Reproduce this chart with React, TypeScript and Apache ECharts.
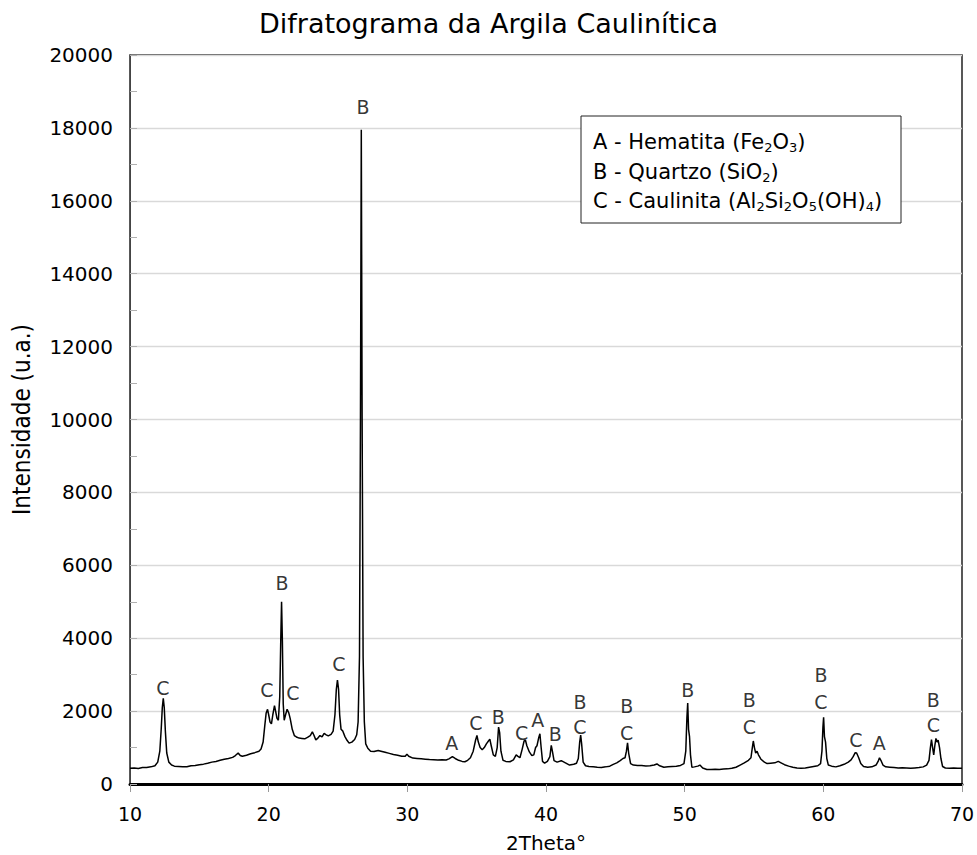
import React, { useEffect, useRef } from "react";
import * as echarts from "echarts";

// 2θ (degrees) and intensity (a.u.)
const twoTheta = [
  10.0, 10.3, 10.6, 10.9, 11.2, 11.5, 11.8, 12.0, 12.15, 12.25, 12.33, 12.4, 12.47, 12.55, 12.65, 12.8,
  13.0, 13.2, 13.5, 13.8, 14.1, 14.4, 14.7, 15.0, 15.3, 15.6, 15.9, 16.2, 16.5, 16.8, 17.1, 17.4, 17.6,
  17.8, 17.95, 18.1, 18.4, 18.7, 19.0, 19.3, 19.45, 19.6, 19.72, 19.82, 19.92, 20.0, 20.1, 20.2, 20.3,
  20.42, 20.5, 20.6, 20.7, 20.8, 20.87, 20.93, 20.99, 21.05, 21.12, 21.22, 21.33, 21.45, 21.55, 21.7,
  21.85, 22.0, 22.2, 22.4, 22.6, 22.8, 23.0, 23.15, 23.25, 23.4, 23.55, 23.7, 23.85, 24.0, 24.15, 24.3,
  24.5, 24.65, 24.78, 24.88, 24.96, 25.04, 25.12, 25.22, 25.35, 25.5, 25.65, 25.8, 26.0, 26.2, 26.35,
  26.45, 26.55, 26.62, 26.68, 26.74, 26.81, 26.9, 27.0, 27.15, 27.35, 27.6, 27.9, 28.1, 28.4, 28.7,
  29.0, 29.3, 29.6, 29.85, 29.97, 30.1, 30.4, 30.7, 31.0, 31.3, 31.6, 31.9, 32.2, 32.5, 32.8, 33.0,
  33.25, 33.45, 33.7, 33.95, 34.15, 34.35, 34.55, 34.75, 34.92, 35.02, 35.12, 35.25, 35.4, 35.55, 35.7,
  35.85, 35.95, 36.05, 36.2, 36.35, 36.48, 36.58, 36.66, 36.75, 36.9, 37.1, 37.4, 37.65, 37.85, 37.98,
  38.12, 38.28, 38.42, 38.52, 38.62, 38.8, 38.98, 39.12, 39.25, 39.35, 39.48, 39.56, 39.65, 39.75, 39.9,
  40.1, 40.28, 40.38, 40.46, 40.58, 40.8, 41.1, 41.4, 41.7, 42.0, 42.2, 42.33, 42.43, 42.5, 42.57, 42.68,
  42.85, 43.1, 43.4, 43.7, 44.0, 44.3, 44.6, 44.85, 45.1, 45.35, 45.55, 45.7, 45.8, 45.88, 45.96, 46.1,
  46.3, 46.6, 46.9, 47.2, 47.5, 47.8, 48.0, 48.2, 48.5, 48.8, 49.1, 49.4, 49.7, 49.95, 50.08, 50.16,
  50.22, 50.28, 50.35, 50.42, 50.52, 50.7, 50.95, 51.1, 51.3, 51.6, 51.9, 52.2, 52.5, 52.8, 53.1, 53.4,
  53.7, 54.0, 54.3, 54.6, 54.78, 54.88, 54.95, 55.03, 55.12, 55.22, 55.32, 55.5, 55.75, 55.95, 56.2,
  56.5, 56.75, 56.95, 57.2, 57.5, 57.8, 58.1, 58.4, 58.7, 59.0, 59.3, 59.6, 59.8, 59.9, 59.97, 60.02,
  60.08, 60.16, 60.25, 60.36, 60.6, 60.9, 61.2, 61.5, 61.8, 62.0, 62.15, 62.3, 62.4, 62.55, 62.7, 62.9,
  63.2, 63.5, 63.8, 63.95, 64.05, 64.15, 64.3, 64.5, 64.8, 65.1, 65.4, 65.7, 66.0, 66.3, 66.6, 66.9,
  67.2, 67.45, 67.62, 67.72, 67.8, 67.88, 67.96, 68.04, 68.12, 68.2, 68.28, 68.38, 68.48, 68.6, 68.8,
  69.1, 69.4, 69.7, 70.0,
];

const intensity = [
  430, 440, 425, 450, 455, 470, 500, 600, 900, 1500, 2100, 2350, 2100, 1450, 850, 600,
  520, 490, 480, 470, 475, 500, 510, 530, 545, 570, 600, 620, 650, 680, 700, 730, 780,
  850, 780, 760, 790, 830, 860, 900, 960, 1150, 1600, 1950, 2050, 1900, 1700, 1650, 1900,
  2150, 2000, 1800, 1750, 2400, 3900, 5000, 3900, 2200, 1750, 1900, 2050, 1950, 1800, 1500,
  1330, 1290, 1260, 1250, 1240, 1280, 1330, 1430, 1350, 1210, 1260, 1330, 1290, 1390, 1350, 1320,
  1360, 1450, 1900, 2600, 2850, 2600, 1900, 1500, 1450, 1300, 1200, 1120, 1150, 1220, 1350,
  1700, 3500, 10000, 17950, 10000, 3500, 1700, 1100, 980, 900, 890, 920, 900, 870, 840,
  810, 790, 760, 760, 820, 760, 710, 700, 690, 680, 670, 665, 660, 665, 660, 690,
  750, 700, 650, 620, 610, 650, 720, 900, 1200, 1330, 1150, 1000, 940, 1000, 1100,
  1180, 1230, 1050, 800, 760, 1000, 1560, 1400, 900, 650, 620, 610, 660, 800, 760,
  720, 950, 1180, 1200, 1050, 880, 780, 800, 1000, 1050, 1280, 1380, 1000, 620, 570,
  620, 750, 1060, 900, 640, 600, 640, 580, 520, 540, 570, 700, 1150, 1340, 1100, 600,
  500, 480, 470, 460, 455, 470, 490, 540, 580, 640, 700, 720, 900, 1130, 850, 560,
  520, 510, 505, 495, 500, 520, 550, 500, 460, 470, 480, 490, 510, 560, 900, 1800,
  2220, 1500, 1300, 800, 460, 470, 490, 520, 440, 400, 400, 405, 400, 410, 415, 430,
  460, 520, 580, 650, 720, 1000, 1180, 1000, 850, 900, 800, 680, 600, 560, 570,
  580, 620, 580, 530, 490, 460, 440, 430, 440, 460, 480, 500, 560, 900, 1550, 1830,
  1300, 1150, 700, 520, 490, 470, 500, 540, 600, 660, 750, 860, 850, 720, 560, 480,
  460, 470, 520, 620, 720, 650, 520, 470, 460, 450, 440, 445, 440, 430, 440, 450,
  470, 520, 650, 1000, 1220, 1000, 800, 1050, 1250, 1150, 1200, 1000, 700, 480, 440,
  430, 440, 430, 430,
];

// Phase letters above the peaks (position in data coordinates)
const peakLabelX = [
  12.38, 19.88, 20.96, 21.75, 25.07, 26.8, 33.2, 34.95, 36.56, 38.24, 39.4, 40.67, 42.45, 42.45,
  45.82, 45.82, 50.22, 54.66, 54.66, 59.83, 59.83, 62.35, 64.04, 67.93, 67.93,
];
const peakLabelY = [
  2634, 2579, 5514, 2497, 3292, 18573, 1116, 1683, 1847, 1412, 1769, 1372, 2258, 1573,
  2140, 1412, 2579, 2304, 1573, 2990, 2258, 1207, 1133, 2318, 1619,
];
const peakLabelText = [
  "C", "C", "B", "C", "C", "B", "A", "C", "B", "C", "A", "B", "B", "C",
  "B", "C", "B", "B", "C", "B", "C", "C", "A", "B", "C",
];

const legendLines = [
  "A - Hematita (Fe{s|2}O{s|3})",
  "B - Quartzo (SiO{s|2})",
  "C - Caulinita (Al{s|2}Si{s|2}O{s|5}(OH){s|4})",
];

const titleText = "Difratograma da Argila Caulinítica";
const xName = "2Theta°";
const yName = "Intensidade (u.a.)";

const FONT = "'DejaVu Sans', Verdana, sans-serif";
const NARROW = "'Liberation Sans Narrow', 'DejaVu Sans Condensed', sans-serif";

export default function App() {
  const ref = useRef<HTMLDivElement>(null);

  useEffect(() => {
    if (!ref.current) return;
    const chart = echarts.init(ref.current, undefined, { renderer: "svg" });

    const lineData = twoTheta.map((t, i) => [t, intensity[i]]);
    const labelData = peakLabelX.map((x, i) => ({ value: [x, peakLabelY[i]], name: peakLabelText[i] }));

    const legendY = [142, 172, 201];

    chart.setOption({
      animation: false,
      backgroundColor: "#ffffff",
      title: {
        text: titleText,
        left: "center",
        top: 5,
        textStyle: { fontFamily: FONT, fontSize: 27, fontWeight: "normal", color: "#000" },
      },
      grid: {
        left: 130,
        right: 15,
        top: 55,
        bottom: 71,
        show: true,
        borderColor: "#222",
        borderWidth: 1.5,
        containLabel: false,
        outerBoundsMode: "none",
      },
      xAxis: {
        type: "value",
        min: 10,
        max: 70,
        interval: 10,
        name: xName,
        nameLocation: "middle",
        nameGap: 49,
        nameTextStyle: { fontFamily: FONT, fontSize: 20, color: "#000" },
        axisLine: { show: true, onZero: false, lineStyle: { color: "#000", width: 3 } },
        axisTick: { show: true, length: 8, lineStyle: { color: "#9a9a9a", width: 1 } },
        axisLabel: { fontFamily: FONT, fontSize: 19, color: "#000", margin: 20 },
        splitLine: { show: false },
      },
      yAxis: {
        type: "value",
        min: 0,
        max: 20000,
        interval: 2000,
        name: yName,
        nameLocation: "middle",
        nameGap: 96,
        nameRotate: 90,
        nameTextStyle: { fontFamily: NARROW, fontSize: 24, color: "#000" },
        axisLine: { show: true, lineStyle: { color: "#444", width: 1 } },
        axisTick: { show: true, inside: true, length: 7, lineStyle: { color: "#b0b0b0" } },
        minorTick: { show: true, splitNumber: 2, length: 7, lineStyle: { color: "#b0b0b0" } },
        axisLabel: {
          fontFamily: FONT,
          fontSize: 20,
          color: "#000",
          margin: 17,
          formatter: (v: number) => String(v),
        },
        splitLine: { show: true, lineStyle: { color: "#d9d9d9", width: 1.3 } },
      },
      series: [
        {
          type: "line",
          data: lineData,
          showSymbol: false,
          symbol: "none",
          lineStyle: { color: "#000", width: 1.5 },
          silent: true,
          z: 3,
        },
        {
          type: "scatter",
          data: labelData,
          symbol: "circle",
          symbolSize: 2,
          itemStyle: { color: "rgba(0,0,0,0)" },
          silent: true,
          label: {
            show: true,
            position: "inside",
            formatter: (p: any) => p.name,
            fontFamily: FONT,
            fontSize: 19,
            color: "#000",
            textBorderWidth: 0,
          },
          labelLayout: { hideOverlap: false },
          z: 4,
        },
      ],
      graphic: [
        {
          type: "rect",
          shape: { x: 581, y: 116, width: 320, height: 107 },
          style: { fill: "#fff", stroke: "#222", lineWidth: 1 },
          z: 10,
        },
        ...legendLines.map((t, i) => ({
          type: "text",
          x: 593,
          y: legendY[i],
          z: 11,
          style: {
            text: t,
            fontFamily: FONT,
            fontSize: 21,
            fill: "#000",
            verticalAlign: "middle",
            lineHeight: 24,
            rich: {
              s: { fontSize: 13, fontFamily: FONT, verticalAlign: "bottom", lineHeight: 14, padding: [9, 0, 0, 0] },
            },
          },
        })),
      ],
    });

    return () => chart.dispose();
  }, []);

  return (
    <div
      ref={ref}
      style={{ position: "fixed", left: 0, top: 0, width: 977, height: 855, background: "#fff" }}
    />
  );
}
